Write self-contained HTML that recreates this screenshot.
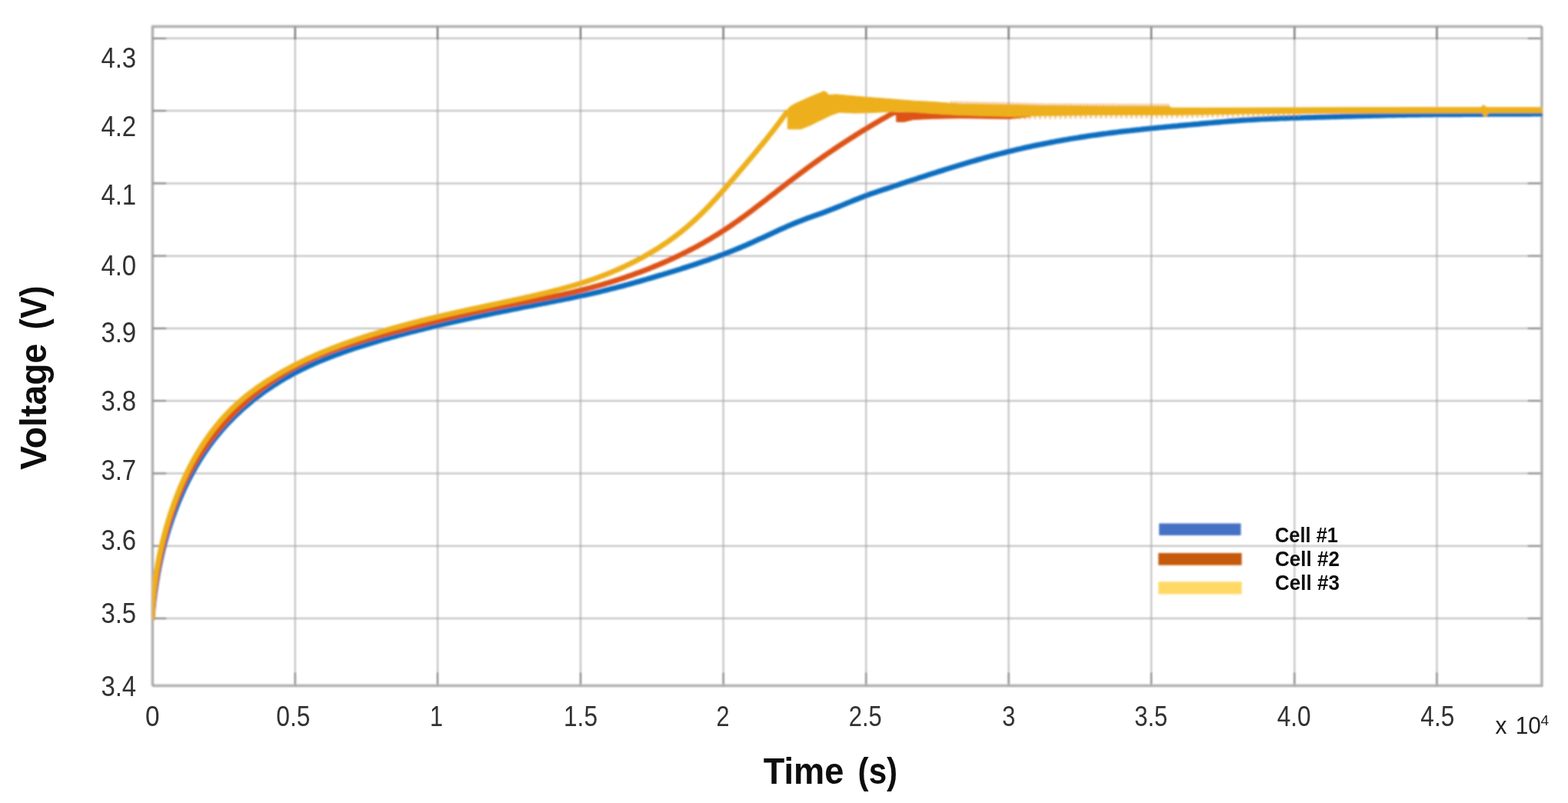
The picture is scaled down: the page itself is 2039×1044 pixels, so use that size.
<!DOCTYPE html>
<html lang="en"><head><meta charset="utf-8"><title>Voltage vs Time</title>
<style>
html,body{margin:0;padding:0;background:#fff;}
body{width:2039px;height:1044px;overflow:hidden;font-family:"Liberation Sans",sans-serif;}
svg{display:block;}
text{font-family:"Liberation Sans",sans-serif;fill:#222;}
.tick{font-size:37.6px;fill:#303030;}
.b{font-weight:bold;fill:#111;}
</style></head><body>
<svg width="2039" height="1044" viewBox="0 0 2039 1044">
<defs><clipPath id="cp"><rect x="197.89999999999998" y="34.3" width="1807.7" height="857.0"/></clipPath>
<filter id="bl" x="-5%" y="-5%" width="110%" height="110%"><feGaussianBlur stdDeviation="1.0"/></filter>
<filter id="blt" x="-5%" y="-5%" width="110%" height="110%"><feGaussianBlur stdDeviation="0.45"/></filter></defs>
<rect width="2039" height="1044" fill="#fff"/>
<g filter="url(#bl)">

<g stroke="#a6a6a6" stroke-width="1.5" fill="none">
<line x1="383.70" y1="34.3" x2="383.70" y2="891.3"/>
<line x1="569.10" y1="34.3" x2="569.10" y2="891.3"/>
<line x1="755.00" y1="34.3" x2="755.00" y2="891.3"/>
<line x1="940.60" y1="34.3" x2="940.60" y2="891.3"/>
<line x1="1126.30" y1="34.3" x2="1126.30" y2="891.3"/>
<line x1="1311.60" y1="34.3" x2="1311.60" y2="891.3"/>
<line x1="1497.20" y1="34.3" x2="1497.20" y2="891.3"/>
<line x1="1683.40" y1="34.3" x2="1683.40" y2="891.3"/>
<line x1="1868.50" y1="34.3" x2="1868.50" y2="891.3"/>
<line x1="198.2" y1="49.85" x2="2004.7" y2="49.85"/>
<line x1="198.2" y1="144.12" x2="2004.7" y2="144.12"/>
<line x1="198.2" y1="238.39" x2="2004.7" y2="238.39"/>
<line x1="198.2" y1="332.66" x2="2004.7" y2="332.66"/>
<line x1="198.2" y1="426.93" x2="2004.7" y2="426.93"/>
<line x1="198.2" y1="521.20" x2="2004.7" y2="521.20"/>
<line x1="198.2" y1="615.47" x2="2004.7" y2="615.47"/>
<line x1="198.2" y1="709.74" x2="2004.7" y2="709.74"/>
<line x1="198.2" y1="804.01" x2="2004.7" y2="804.01"/>
</g>
<g stroke="#6a6a6a" stroke-width="1.7" fill="none">
<line x1="383.70" y1="891.3" x2="383.70" y2="874.3"/>
<line x1="383.70" y1="34.3" x2="383.70" y2="51.3" stroke="#505050"/>
<line x1="569.10" y1="891.3" x2="569.10" y2="874.3"/>
<line x1="569.10" y1="34.3" x2="569.10" y2="51.3" stroke="#505050"/>
<line x1="755.00" y1="891.3" x2="755.00" y2="874.3"/>
<line x1="755.00" y1="34.3" x2="755.00" y2="51.3" stroke="#505050"/>
<line x1="940.60" y1="891.3" x2="940.60" y2="874.3"/>
<line x1="940.60" y1="34.3" x2="940.60" y2="51.3" stroke="#505050"/>
<line x1="1126.30" y1="891.3" x2="1126.30" y2="874.3"/>
<line x1="1126.30" y1="34.3" x2="1126.30" y2="51.3" stroke="#505050"/>
<line x1="1311.60" y1="891.3" x2="1311.60" y2="874.3"/>
<line x1="1311.60" y1="34.3" x2="1311.60" y2="51.3" stroke="#505050"/>
<line x1="1497.20" y1="891.3" x2="1497.20" y2="874.3"/>
<line x1="1497.20" y1="34.3" x2="1497.20" y2="51.3" stroke="#505050"/>
<line x1="1683.40" y1="891.3" x2="1683.40" y2="874.3"/>
<line x1="1683.40" y1="34.3" x2="1683.40" y2="51.3" stroke="#505050"/>
<line x1="1868.50" y1="891.3" x2="1868.50" y2="874.3"/>
<line x1="1868.50" y1="34.3" x2="1868.50" y2="51.3" stroke="#505050"/>
<line x1="198.2" y1="49.85" x2="216.2" y2="49.85"/>
<line x1="2004.7" y1="49.85" x2="1986.7" y2="49.85"/>
<line x1="198.2" y1="144.12" x2="216.2" y2="144.12"/>
<line x1="2004.7" y1="144.12" x2="1986.7" y2="144.12"/>
<line x1="198.2" y1="238.39" x2="216.2" y2="238.39"/>
<line x1="2004.7" y1="238.39" x2="1986.7" y2="238.39"/>
<line x1="198.2" y1="332.66" x2="216.2" y2="332.66"/>
<line x1="2004.7" y1="332.66" x2="1986.7" y2="332.66"/>
<line x1="198.2" y1="426.93" x2="216.2" y2="426.93"/>
<line x1="2004.7" y1="426.93" x2="1986.7" y2="426.93"/>
<line x1="198.2" y1="521.20" x2="216.2" y2="521.20"/>
<line x1="2004.7" y1="521.20" x2="1986.7" y2="521.20"/>
<line x1="198.2" y1="615.47" x2="216.2" y2="615.47"/>
<line x1="2004.7" y1="615.47" x2="1986.7" y2="615.47"/>
<line x1="198.2" y1="709.74" x2="216.2" y2="709.74"/>
<line x1="2004.7" y1="709.74" x2="1986.7" y2="709.74"/>
<line x1="198.2" y1="804.01" x2="216.2" y2="804.01"/>
<line x1="2004.7" y1="804.01" x2="1986.7" y2="804.01"/>
</g>
<rect x="197.39999999999998" y="33.5" width="1806.5" height="857.0" fill="none" stroke="#b4b4b4" stroke-width="1.6"/>
<rect x="199.0" y="35.099999999999994" width="1806.5" height="857.0" fill="none" stroke="#929292" stroke-width="1.6"/>
<g clip-path="url(#cp)" fill="none" stroke-linejoin="round" stroke-linecap="butt">
<polyline points="197.7,806.0 198.0,802.5 198.3,799.1 198.6,795.6 198.9,792.2 199.3,788.8 199.6,785.3 200.0,781.9 200.4,778.5 200.9,775.1 201.3,771.7 201.8,768.3 202.3,764.9 202.8,761.5 203.3,758.1 203.9,754.7 204.4,751.3 205.0,747.9 205.6,744.6 206.3,741.2 206.9,737.8 207.6,734.5 208.3,731.1 209.0,727.8 209.8,724.4 210.5,721.1 211.3,717.8 212.1,714.4 213.0,711.1 213.8,707.8 214.7,704.5 215.6,701.2 216.6,697.9 217.5,694.6 218.5,691.3 219.5,688.0 220.6,684.7 221.6,681.4 222.7,678.1 223.8,674.9 225.0,671.6 226.2,668.4 227.3,665.1 228.6,661.9 229.8,658.6 231.1,655.4 232.4,652.2 233.7,649.0 235.1,645.8 236.5,642.6 237.9,639.4 239.3,636.2 240.8,633.1 242.3,630.0 243.9,626.8 245.4,623.7 247.0,620.6 248.6,617.6 250.3,614.5 252.0,611.5 253.7,608.4 255.4,605.4 257.2,602.4 259.0,599.5 260.9,596.5 262.7,593.6 264.6,590.7 266.5,587.8 268.5,585.0 270.5,582.1 272.5,579.3 274.6,576.5 276.6,573.8 278.7,571.0 280.9,568.3 283.1,565.6 285.3,563.0 287.5,560.3 289.7,557.7 292.0,555.2 294.3,552.6 296.7,550.1 299.1,547.6 301.5,545.2 303.9,542.7 306.3,540.3 308.8,537.9 311.3,535.6 313.8,533.3 316.4,531.0 319.0,528.7 321.6,526.5 324.2,524.3 326.9,522.1 329.5,519.9 332.2,517.8 335.0,515.7 337.7,513.7 340.5,511.6 343.2,509.6 346.0,507.6 348.9,505.7 351.7,503.8 354.6,501.9 357.4,500.0 360.3,498.2 363.3,496.3 366.2,494.6 369.1,492.8 372.1,491.1 375.1,489.4 378.1,487.7 381.1,486.1 384.1,484.5 387.2,482.9 390.2,481.4 393.3,479.8 396.4,478.3 399.5,476.9 402.6,475.4 405.7,474.0 408.9,472.6 412.0,471.2 415.2,469.9 418.4,468.6 421.5,467.3 424.7,466.0 427.9,464.7 431.1,463.5 434.4,462.3 437.6,461.1 440.8,459.9 444.0,458.7 447.3,457.6 450.5,456.4 453.8,455.3 457.1,454.2 460.3,453.1 463.6,452.0 466.9,451.0 470.2,449.9 473.5,448.9 476.8,447.9 480.1,446.9 483.4,445.9 486.7,444.9 490.0,443.9 493.3,442.9 496.6,441.9 499.9,441.0 503.2,440.1 506.5,439.1 509.9,438.2 513.2,437.3 516.5,436.4 519.8,435.5 523.2,434.6 526.5,433.7 529.8,432.8 533.2,432.0 536.5,431.1 539.9,430.3 543.2,429.4 546.6,428.6 549.9,427.8 553.3,427.0 556.6,426.1 560.0,425.3 563.4,424.5 566.7,423.7 570.1,423.0 573.5,422.2 576.8,421.4 580.2,420.6 583.6,419.8 586.9,419.1 590.3,418.3 593.7,417.6 597.1,416.8 600.5,416.1 603.8,415.3 607.2,414.6 610.6,413.9 614.0,413.1 617.4,412.4 620.7,411.7 624.1,411.0 627.5,410.2 630.9,409.5 634.3,408.8 637.7,408.1 641.1,407.4 644.4,406.7 647.8,406.0 651.2,405.3 654.6,404.7 658.0,404.0 661.4,403.3 664.8,402.6 668.2,401.9 671.6,401.3 674.9,400.6 678.3,399.9 681.7,399.2 685.1,398.6 688.5,397.9 691.9,397.3 695.3,396.6 698.6,395.9 702.0,395.3 705.4,394.6 708.8,394.0 712.2,393.3 715.6,392.6 718.9,392.0 722.3,391.3 725.7,390.7 729.1,390.0 732.4,389.3 735.8,388.7 739.2,388.0 742.6,387.3 745.9,386.6 749.3,385.9 752.7,385.2 756.0,384.5 759.4,383.8 762.7,383.1 766.1,382.3 769.5,381.6 772.8,380.8 776.2,380.1 779.5,379.3 782.9,378.5 786.2,377.7 789.6,376.9 792.9,376.0 796.2,375.2 799.6,374.4 802.9,373.5 806.2,372.6 809.6,371.8 812.9,370.9 816.2,370.0 819.5,369.1 822.8,368.2 826.1,367.2 829.5,366.3 832.8,365.4 836.1,364.4 839.4,363.5 842.7,362.5 845.9,361.6 849.2,360.6 852.5,359.6 855.8,358.6 859.1,357.7 862.3,356.7 865.6,355.7 868.9,354.7 872.1,353.7 875.4,352.7 878.7,351.7 881.9,350.7 885.2,349.7 888.4,348.6 891.6,347.6 894.9,346.6 898.1,345.5 901.4,344.4 904.6,343.4 907.8,342.3 911.0,341.2 914.3,340.1 917.5,339.0 920.7,337.9 923.9,336.7 927.1,335.6 930.3,334.4 933.5,333.3 936.8,332.1 940.0,330.9 943.2,329.6 946.4,328.4 949.6,327.2 952.8,325.9 956.0,324.6 959.2,323.3 962.4,322.0 965.6,320.6 968.8,319.3 972.0,317.9 975.1,316.5 978.3,315.1 981.5,313.6 984.7,312.2 987.9,310.7 991.1,309.3 994.3,307.8 997.5,306.3 1000.7,304.8 1003.9,303.3 1007.1,301.9 1010.3,300.4 1013.4,298.9 1016.6,297.5 1019.8,296.1 1023.0,294.6 1026.2,293.2 1029.4,291.9 1032.6,290.5 1035.8,289.2 1039.0,287.9 1042.2,286.7 1045.4,285.5 1048.6,284.3 1051.8,283.1 1055.0,282.0 1058.2,280.8 1061.4,279.7 1064.6,278.6 1067.8,277.4 1071.1,276.2 1074.3,275.0 1077.5,273.8 1080.7,272.6 1083.9,271.3 1087.1,270.0 1090.4,268.7 1093.6,267.4 1096.8,266.1 1100.0,264.7 1103.3,263.4 1106.5,262.1 1109.7,260.8 1112.9,259.5 1116.2,258.2 1119.4,256.9 1122.6,255.7 1125.9,254.4 1129.1,253.3 1132.4,252.1 1135.6,251.0 1138.8,249.9 1142.1,248.8 1145.3,247.7 1148.6,246.6 1151.8,245.6 1155.1,244.5 1158.3,243.4 1161.6,242.3 1164.9,241.3 1168.1,240.2 1171.4,239.1 1174.6,238.0 1177.9,236.9 1181.2,235.9 1184.4,234.8 1187.7,233.7 1191.0,232.7 1194.2,231.6 1197.5,230.5 1200.8,229.5 1204.1,228.4 1207.4,227.3 1210.6,226.3 1213.9,225.2 1217.2,224.2 1220.5,223.1 1223.8,222.1 1227.1,221.1 1230.4,220.0 1233.7,219.0 1237.0,218.0 1240.3,217.0 1243.6,216.0 1246.9,215.0 1250.2,214.0 1253.5,213.0 1256.8,212.0 1260.1,211.0 1263.4,210.0 1266.8,209.1 1270.1,208.1 1273.4,207.2 1276.7,206.3 1280.0,205.3 1283.4,204.4 1286.7,203.5 1290.0,202.6 1293.4,201.7 1296.7,200.8 1300.0,200.0 1303.4,199.1 1306.7,198.3 1310.1,197.4 1313.4,196.6 1316.8,195.8 1320.1,195.0 1323.5,194.2 1326.8,193.5 1330.2,192.7 1333.5,191.9 1336.9,191.2 1340.3,190.5 1343.6,189.7 1347.0,189.0 1350.4,188.3 1353.8,187.6 1357.1,187.0 1360.5,186.3 1363.9,185.6 1367.3,185.0 1370.7,184.4 1374.0,183.7 1377.4,183.1 1380.8,182.5 1384.2,181.9 1387.6,181.3 1391.0,180.7 1394.4,180.2 1397.8,179.6 1401.2,179.1 1404.6,178.5 1408.0,178.0 1411.4,177.5 1414.8,176.9 1418.2,176.4 1421.6,175.9 1425.0,175.5 1428.4,175.0 1431.8,174.5 1435.2,174.0 1438.6,173.6 1442.1,173.1 1445.5,172.7 1448.9,172.3 1452.3,171.9 1455.7,171.4 1459.1,171.0 1462.6,170.6 1466.0,170.2 1469.4,169.9 1472.8,169.5 1476.3,169.1 1479.7,168.7 1483.1,168.4 1486.5,168.0 1490.0,167.6 1493.4,167.3 1496.8,166.9 1500.3,166.6 1503.7,166.3 1507.1,165.9 1510.6,165.6 1514.0,165.3 1517.4,164.9 1520.9,164.6 1524.3,164.3 1527.7,164.0 1531.2,163.7 1534.6,163.3 1538.1,163.0 1541.5,162.7 1544.9,162.4 1548.4,162.1 1551.8,161.8 1555.3,161.5 1558.7,161.2 1562.1,160.8 1565.6,160.5 1569.0,160.2 1572.5,159.9 1575.9,159.6 1579.4,159.3 1582.8,159.0 1586.2,158.7 1589.7,158.4 1593.1,158.1 1596.6,157.8 1600.0,157.5 1603.5,157.2 1606.9,157.0 1610.3,156.8 1613.8,156.5 1617.2,156.3 1620.7,156.1 1624.1,155.9 1627.6,155.7 1631.0,155.5 1634.4,155.3 1637.9,155.1 1641.3,154.9 1644.8,154.8 1648.2,154.6 1651.6,154.5 1655.1,154.3 1658.5,154.2 1662.0,154.0 1665.4,153.9 1668.9,153.8 1672.3,153.7 1675.7,153.6 1679.2,153.4 1682.6,153.3 1686.1,153.2 1689.5,153.1 1693.0,153.0 1696.4,152.9 1699.8,152.8 1703.3,152.7 1706.7,152.6 1710.2,152.5 1713.6,152.4 1717.1,152.3 1720.5,152.2 1723.9,152.1 1727.4,152.0 1730.8,151.9 1734.3,151.8 1737.7,151.7 1741.2,151.6 1744.6,151.5 1748.0,151.4 1751.5,151.3 1754.9,151.2 1758.4,151.1 1761.8,151.0 1765.3,150.9 1768.7,150.8 1772.2,150.7 1775.6,150.6 1779.0,150.5 1782.5,150.5 1785.9,150.4 1789.4,150.3 1792.8,150.2 1796.3,150.1 1799.7,150.0 1803.1,149.9 1806.6,149.9 1810.0,149.8 1813.5,149.7 1816.9,149.6 1820.4,149.6 1823.8,149.5 1827.3,149.5 1830.7,149.4 1834.1,149.3 1837.6,149.3 1841.0,149.2 1844.5,149.2 1847.9,149.1 1851.4,149.1 1854.8,149.1 1858.3,149.0 1861.7,149.0 1865.2,148.9 1868.6,148.9 1872.0,148.9 1875.5,148.8 1878.9,148.8 1882.4,148.8 1885.8,148.8 1889.3,148.7 1892.7,148.7 1896.2,148.7 1899.6,148.7 1903.1,148.6 1906.5,148.6 1910.0,148.6 1913.4,148.6 1916.9,148.5 1920.3,148.5 1923.8,148.5 1927.2,148.5 1930.7,148.5 1934.1,148.5 1937.5,148.4 1941.0,148.4 1944.4,148.4 1947.9,148.4 1951.3,148.4 1954.8,148.4 1958.2,148.3 1961.7,148.3 1965.1,148.3 1968.6,148.3 1972.0,148.3 1975.5,148.2 1978.9,148.2 1982.4,148.2 1985.8,148.2 1989.3,148.2 1992.7,148.1 1996.2,148.1 1999.6,148.1 2003.1,148.1 2006.5,148.0 2010.0,148.0" stroke="#0a6ebf" stroke-width="6.9"/>
<polyline points="197.7,806.0 197.8,803.9 197.9,801.8 198.0,799.7 198.2,797.7 198.3,795.6 198.5,793.5 198.6,791.4 198.8,789.3 199.0,787.2 199.2,785.1 199.4,783.0 199.6,780.9 199.8,778.9 200.0,776.8 200.2,774.7 200.5,772.6 200.7,770.5 201.0,768.4 201.3,766.3 201.5,764.2 201.8,762.2 202.1,760.1 202.4,758.0 202.7,755.9 203.0,753.8 203.4,751.8 203.7,749.7 204.0,747.6 204.4,745.5 204.8,743.5 205.1,741.4 205.5,739.3 205.9,737.2 206.3,735.2 206.7,733.1 207.1,731.0 207.5,729.0 207.9,726.9 208.3,724.9 208.8,722.8 209.2,720.8 209.7,718.7 210.1,716.7 210.6,714.6 211.1,712.6 211.5,710.5 212.0,708.5 212.5,706.4 213.0,704.4 213.5,702.4 214.0,700.3 214.6,698.3 215.1,696.3 215.6,694.3 216.2,692.3 216.7,690.2 217.3,688.2 217.9,686.2 218.5,684.2 219.0,682.2 219.6,680.2 220.2,678.2 220.9,676.2 221.5,674.2 222.1,672.3 222.8,670.3 223.4,668.3 224.1,666.3 224.8,664.4 225.4,662.4 226.1,660.5 226.8,658.5 227.6,656.5 228.3,654.6 229.0,652.7 229.8,650.7 230.5,648.8 231.3,646.9 232.1,644.9 232.9,643.0 233.7,641.1 234.5,639.2 235.3,637.3 236.1,635.4 237.0,633.5 237.8,631.6 238.7,629.7 239.6,627.9 240.5,626.0 241.4,624.1 242.3,622.3 243.3,620.4 244.2,618.5 245.2,616.7 246.1,614.9 247.1,613.0 248.1,611.2 249.1,609.4 250.2,607.6 251.2,605.8 252.2,604.0 253.3,602.2 254.4,600.4 255.5,598.6 256.6,596.8 257.7,595.0 258.8,593.3 259.9,591.5 261.1,589.8 262.2,588.0 263.4,586.3 264.6,584.6 265.8,582.8 267.0,581.1 268.2,579.4 269.4,577.7 270.6,576.0 271.9,574.3 273.1,572.6 274.4,571.0 275.7,569.3 277.0,567.6 278.3,566.0 279.6,564.4 280.9,562.7 282.2,561.1 283.6,559.5 284.9,557.9 286.3,556.3 287.7,554.7 289.1,553.1 290.4,551.5 291.8,549.9 293.3,548.4 294.7,546.8 296.1,545.3 297.6,543.7 299.0,542.2 300.5,540.7 301.9,539.2 303.4,537.7 304.9,536.2 306.4,534.7 307.9,533.2 309.4,531.8 310.9,530.3 312.5,528.9 314.0,527.5 315.6,526.0 317.1,524.6 318.7,523.2 320.3,521.8 321.8,520.4 323.4,519.0 325.0,517.7 326.6,516.3 328.3,515.0 329.9,513.6 331.5,512.3 333.2,511.0 334.8,509.7 336.5,508.4 338.1,507.1 339.8,505.8 341.5,504.5 343.1,503.3 344.8,502.0 346.5,500.8 348.2,499.6 350.0,498.4 351.7,497.2 353.4,496.0 355.1,494.8 356.9,493.6 358.6,492.5 360.4,491.3 362.1,490.2 363.9,489.1 365.7,488.0 367.4,486.9 369.2,485.8 371.0,484.7 372.8,483.6 374.6,482.6 376.4,481.5 378.2,480.5 380.1,479.5 381.9,478.5 383.7,477.5 385.6,476.5 387.4,475.5 389.2,474.6 391.1,473.6 393.0,472.7 394.8,471.8 396.7,470.9 398.6,470.0 400.4,469.1 402.3,468.2 404.2,467.3 406.1,466.5 408.0,465.6 409.9,464.8 411.8,463.9 413.7,463.1 415.6,462.3 417.5,461.5 419.5,460.7 421.4,459.9 423.3,459.2 425.3,458.4 427.2,457.7 429.1,456.9 431.1,456.2 433.0,455.5 435.0,454.7 437.0,454.0 438.9,453.3 440.9,452.6 442.8,451.9 444.8,451.2 446.8,450.6 448.8,449.9 450.8,449.2 452.7,448.6 454.7,447.9 456.7,447.3 458.7,446.7 460.7,446.0 462.7,445.4 464.7,444.8 466.7,444.2 468.7,443.6 470.7,443.0 472.7,442.4 474.7,441.8 476.7,441.2 478.8,440.6 480.8,440.0 482.8,439.4 484.8,438.9 486.9,438.3 488.9,437.7 490.9,437.2 492.9,436.6 495.0,436.1 497.0,435.5 499.0,435.0 501.1,434.4 503.1,433.9 505.1,433.3 507.2,432.8 509.2,432.3 511.3,431.7 513.3,431.2 515.3,430.7 517.4,430.2 519.4,429.6 521.5,429.1 523.5,428.6 525.6,428.1 527.6,427.5 529.6,427.0 531.7,426.5 533.7,426.0 535.8,425.4 537.8,424.9 539.9,424.4 541.9,423.9 544.0,423.4 546.0,422.8 548.1,422.3 550.1,421.8 552.2,421.3 554.2,420.8 556.3,420.2 558.3,419.7 560.4,419.2 562.4,418.7 564.4,418.2 566.5,417.7 568.5,417.2 570.6,416.7 572.6,416.1 574.7,415.6 576.7,415.1 578.8,414.6 580.8,414.1 582.9,413.6 584.9,413.1 587.0,412.6 589.0,412.1 591.1,411.7 593.1,411.2 595.2,410.7 597.2,410.2 599.3,409.7 601.3,409.3 603.3,408.8 605.4,408.3 607.4,407.8 609.5,407.4 611.5,406.9 613.6,406.5 615.6,406.0 617.7,405.5 619.7,405.1 621.8,404.6 623.8,404.2 625.9,403.8 627.9,403.3 629.9,402.9 632.0,402.4 634.0,402.0 636.1,401.6 638.1,401.2 640.2,400.7 642.2,400.3 644.3,399.9 646.3,399.5 648.4,399.1 650.4,398.7 652.4,398.2 654.5,397.8 656.5,397.4 658.6,397.0 660.6,396.6 662.7,396.2 664.7,395.9 666.8,395.5 668.8,395.1 670.8,394.7 672.9,394.3 674.9,393.9 677.0,393.5 679.0,393.2 681.1,392.8 683.1,392.4 685.1,392.0 687.2,391.6 689.2,391.3 691.3,390.9 693.3,390.5 695.3,390.1 697.4,389.7 699.4,389.4 701.5,389.0 703.5,388.6 705.5,388.2 707.6,387.8 709.6,387.4 711.7,387.0 713.7,386.6 715.7,386.2 717.8,385.8 719.8,385.4 721.8,385.0 723.9,384.5 725.9,384.1 728.0,383.7 730.0,383.3 732.0,382.8 734.1,382.4 736.1,381.9 738.1,381.5 740.2,381.0 742.2,380.5 744.2,380.1 746.3,379.6 748.3,379.1 750.3,378.6 752.4,378.1 754.4,377.6 756.4,377.1 758.4,376.6 760.5,376.1 762.5,375.6 764.5,375.0 766.5,374.5 768.6,374.0 770.6,373.4 772.6,372.9 774.6,372.3 776.6,371.8 778.7,371.2 780.7,370.6 782.7,370.1 784.7,369.5 786.7,368.9 788.7,368.3 790.7,367.7 792.7,367.1 794.7,366.5 796.7,365.9 798.7,365.2 800.7,364.6 802.7,364.0 804.7,363.3 806.7,362.7 808.7,362.0 810.7,361.4 812.7,360.7 814.7,360.0 816.7,359.3 818.7,358.6 820.6,358.0 822.6,357.3 824.6,356.6 826.6,355.8 828.5,355.1 830.5,354.4 832.5,353.7 834.4,352.9 836.4,352.2 838.4,351.4 840.3,350.7 842.3,349.9 844.2,349.2 846.2,348.4 848.1,347.6 850.0,346.8 852.0,346.0 853.9,345.2 855.9,344.4 857.8,343.6 859.7,342.8 861.6,342.0 863.6,341.1 865.5,340.3 867.4,339.4 869.3,338.6 871.2,337.7 873.1,336.8 875.0,336.0 876.9,335.1 878.8,334.2 880.7,333.3 882.6,332.4 884.5,331.5 886.4,330.6 888.3,329.6 890.1,328.7 892.0,327.8 893.9,326.8 895.7,325.9 897.6,324.9 899.5,323.9 901.3,323.0 903.2,322.0 905.0,321.0 906.9,320.0 908.7,319.0 910.5,318.0 912.4,316.9 914.2,315.9 916.0,314.9 917.8,313.8 919.6,312.8 921.4,311.7 923.2,310.7 925.0,309.6 926.8,308.5 928.6,307.4 930.4,306.3 932.2,305.2 934.0,304.1 935.7,303.0 937.5,301.9 939.3,300.7 941.0,299.6 942.8,298.5 944.5,297.3 946.3,296.1 948.0,295.0 949.8,293.8 951.5,292.6 953.2,291.4 954.9,290.2 956.7,289.0 958.4,287.8 960.1,286.6 961.8,285.4 963.5,284.1 965.2,282.9 966.9,281.7 968.6,280.4 970.3,279.2 972.0,277.9 973.7,276.7 975.4,275.4 977.0,274.2 978.7,272.9 980.4,271.6 982.1,270.4 983.7,269.1 985.4,267.8 987.1,266.6 988.7,265.3 990.4,264.0 992.1,262.7 993.7,261.5 995.4,260.2 997.1,258.9 998.7,257.6 1000.4,256.3 1002.0,255.0 1003.7,253.8 1005.3,252.5 1007.0,251.2 1008.7,249.9 1010.3,248.6 1012.0,247.3 1013.6,246.1 1015.3,244.8 1016.9,243.5 1018.6,242.2 1020.2,240.9 1021.9,239.6 1023.6,238.4 1025.2,237.1 1026.9,235.8 1028.5,234.5 1030.2,233.3 1031.8,232.0 1033.5,230.7 1035.2,229.5 1036.8,228.2 1038.5,227.0 1040.2,225.7 1041.8,224.5 1043.5,223.2 1045.2,222.0 1046.9,220.7 1048.5,219.5 1050.2,218.2 1051.9,217.0 1053.6,215.8 1055.3,214.5 1057.0,213.3 1058.7,212.1 1060.4,210.9 1062.1,209.6 1063.8,208.4 1065.5,207.2 1067.2,206.0 1068.9,204.8 1070.6,203.6 1072.3,202.4 1074.0,201.2 1075.8,200.0 1077.5,198.8 1079.2,197.7 1080.9,196.5 1082.7,195.3 1084.4,194.1 1086.1,193.0 1087.9,191.8 1089.6,190.6 1091.4,189.5 1093.1,188.3 1094.9,187.2 1096.6,186.0 1098.4,184.9 1100.1,183.7 1101.9,182.6 1103.7,181.5 1105.4,180.3 1107.2,179.2 1109.0,178.1 1110.7,177.0 1112.5,175.8 1114.3,174.7 1116.1,173.6 1117.8,172.5 1119.6,171.4 1121.4,170.3 1123.2,169.2 1125.0,168.1 1126.8,167.0 1128.6,165.9 1130.4,164.9 1132.2,163.8 1134.0,162.7 1135.8,161.6 1137.6,160.6 1139.4,159.5 1141.2,158.4 1143.0,157.4 1144.8,156.3 1146.6,155.3 1148.4,154.2 1150.2,153.2 1152.1,152.2 1153.9,151.1 1155.7,150.1 1157.5,149.1 1159.3,148.0 1161.2,147.0 1163.0,146.0" stroke="#dd5217" stroke-width="6.9"/>
<polygon points="1160.0,146.0 1340.0,146.0 1340.0,151.5 1313.0,154.4 1280.0,154.0 1250.0,153.6 1212.8,154.3 1194.0,155.2 1187.7,155.5 1176.0,158.3 1165.8,158.3 1165.6,149.0 1160.0,150.0" fill="#dd5217" stroke="#dd5217" stroke-width="1"/>
<polyline points="1236.0,133.4 1250.0,133.6 1313.0,135.0 1360.0,136.2 1440.0,136.6 1521.0,136.8" stroke="#e88a30" stroke-width="4" stroke-dasharray="3 1.2" opacity="0.5"/>
<polyline points="1318.0,153.2 1360.0,152.6 1440.0,151.6 1521.0,151.4 1600.0,150.2 1690.0,149.2" stroke="#eb9a38" stroke-width="4.4" stroke-dasharray="3 3.6" opacity="0.55"/>
<polyline points="197.7,806.0 197.7,804.1 197.8,802.2 197.8,800.2 197.9,798.3 197.9,796.4 198.0,794.5 198.1,792.6 198.2,790.7 198.3,788.8 198.4,786.9 198.5,785.0 198.7,783.0 198.8,781.1 199.0,779.2 199.1,777.3 199.3,775.4 199.5,773.5 199.6,771.6 199.8,769.7 200.0,767.8 200.2,765.9 200.5,764.0 200.7,762.1 200.9,760.3 201.2,758.4 201.4,756.5 201.7,754.6 201.9,752.7 202.2,750.8 202.5,748.9 202.8,747.0 203.1,745.1 203.4,743.3 203.7,741.4 204.0,739.5 204.4,737.6 204.7,735.7 205.0,733.9 205.4,732.0 205.7,730.1 206.1,728.2 206.5,726.4 206.9,724.5 207.2,722.6 207.6,720.8 208.0,718.9 208.4,717.0 208.8,715.2 209.3,713.3 209.7,711.4 210.1,709.6 210.6,707.7 211.0,705.9 211.4,704.0 211.9,702.2 212.4,700.3 212.8,698.5 213.3,696.6 213.8,694.8 214.3,692.9 214.8,691.1 215.3,689.2 215.8,687.4 216.3,685.5 216.8,683.7 217.4,681.9 217.9,680.0 218.5,678.2 219.0,676.4 219.6,674.5 220.2,672.7 220.7,670.9 221.3,669.0 221.9,667.2 222.5,665.4 223.1,663.6 223.7,661.7 224.4,659.9 225.0,658.1 225.6,656.3 226.3,654.5 226.9,652.7 227.6,650.9 228.3,649.1 229.0,647.3 229.6,645.5 230.3,643.7 231.0,641.9 231.8,640.1 232.5,638.3 233.2,636.5 233.9,634.7 234.7,633.0 235.4,631.2 236.2,629.4 237.0,627.7 237.8,625.9 238.6,624.1 239.3,622.4 240.2,620.6 241.0,618.9 241.8,617.2 242.6,615.4 243.5,613.7 244.3,612.0 245.2,610.3 246.0,608.5 246.9,606.8 247.8,605.1 248.7,603.4 249.6,601.7 250.5,600.0 251.4,598.3 252.4,596.7 253.3,595.0 254.3,593.3 255.2,591.7 256.2,590.0 257.2,588.4 258.2,586.7 259.2,585.1 260.2,583.5 261.2,581.8 262.2,580.2 263.3,578.6 264.3,577.0 265.4,575.4 266.4,573.8 267.5,572.2 268.6,570.7 269.7,569.1 270.8,567.5 271.9,566.0 273.0,564.4 274.1,562.9 275.3,561.4 276.4,559.8 277.6,558.3 278.8,556.8 280.0,555.3 281.2,553.8 282.4,552.4 283.6,550.9 284.8,549.4 286.0,548.0 287.3,546.5 288.5,545.1 289.8,543.7 291.1,542.2 292.4,540.8 293.7,539.4 295.0,538.0 296.3,536.6 297.6,535.3 299.0,533.9 300.3,532.6 301.7,531.2 303.1,529.9 304.5,528.6 305.8,527.3 307.3,525.9 308.7,524.7 310.1,523.4 311.5,522.1 313.0,520.8 314.5,519.6 315.9,518.4 317.4,517.1 318.9,515.9 320.4,514.7 321.9,513.5 323.4,512.3 325.0,511.1 326.5,510.0 328.0,508.8 329.6,507.7 331.1,506.5 332.7,505.4 334.2,504.3 335.8,503.2 337.4,502.1 339.0,501.0 340.6,499.9 342.1,498.8 343.7,497.8 345.3,496.7 346.9,495.7 348.5,494.6 350.1,493.6 351.8,492.6 353.4,491.6 355.0,490.6 356.6,489.6 358.2,488.6 359.9,487.6 361.5,486.6 363.1,485.7 364.8,484.7 366.4,483.8 368.1,482.8 369.7,481.9 371.4,481.0 373.1,480.1 374.7,479.2 376.4,478.3 378.1,477.4 379.7,476.5 381.4,475.6 383.1,474.7 384.8,473.9 386.5,473.0 388.2,472.2 389.9,471.3 391.6,470.5 393.3,469.7 395.0,468.8 396.7,468.0 398.4,467.2 400.1,466.4 401.8,465.6 403.5,464.8 405.3,464.1 407.0,463.3 408.7,462.5 410.5,461.7 412.2,461.0 413.9,460.2 415.7,459.5 417.4,458.7 419.2,458.0 420.9,457.3 422.7,456.6 424.4,455.8 426.2,455.1 428.0,454.4 429.7,453.7 431.5,453.0 433.3,452.3 435.0,451.7 436.8,451.0 438.6,450.3 440.4,449.6 442.2,449.0 443.9,448.3 445.7,447.6 447.5,447.0 449.3,446.3 451.1,445.7 452.9,445.1 454.7,444.4 456.5,443.8 458.3,443.2 460.1,442.6 461.9,441.9 463.7,441.3 465.6,440.7 467.4,440.1 469.2,439.5 471.0,438.9 472.8,438.3 474.6,437.7 476.5,437.1 478.3,436.6 480.1,436.0 482.0,435.4 483.8,434.8 485.6,434.3 487.5,433.7 489.3,433.1 491.1,432.6 493.0,432.0 494.8,431.5 496.7,430.9 498.5,430.4 500.3,429.8 502.2,429.3 504.0,428.7 505.9,428.2 507.7,427.7 509.6,427.2 511.5,426.6 513.3,426.1 515.2,425.6 517.0,425.1 518.9,424.6 520.8,424.1 522.6,423.6 524.5,423.0 526.3,422.5 528.2,422.1 530.1,421.6 531.9,421.1 533.8,420.6 535.7,420.1 537.6,419.6 539.4,419.1 541.3,418.6 543.2,418.2 545.0,417.7 546.9,417.2 548.8,416.7 550.7,416.3 552.6,415.8 554.4,415.4 556.3,414.9 558.2,414.4 560.1,414.0 561.9,413.5 563.8,413.1 565.7,412.6 567.6,412.2 569.5,411.7 571.4,411.3 573.2,410.8 575.1,410.4 577.0,410.0 578.9,409.5 580.8,409.1 582.7,408.7 584.5,408.2 586.4,407.8 588.3,407.4 590.2,407.0 592.1,406.5 594.0,406.1 595.9,405.7 597.7,405.3 599.6,404.9 601.5,404.5 603.4,404.1 605.3,403.6 607.2,403.2 609.1,402.8 610.9,402.4 612.8,402.0 614.7,401.6 616.6,401.2 618.5,400.8 620.4,400.4 622.2,400.0 624.1,399.6 626.0,399.2 627.9,398.8 629.8,398.4 631.7,398.0 633.5,397.6 635.4,397.2 637.3,396.8 639.2,396.4 641.1,396.0 642.9,395.6 644.8,395.2 646.7,394.8 648.6,394.4 650.4,394.0 652.3,393.6 654.2,393.2 656.1,392.8 657.9,392.4 659.8,392.0 661.7,391.6 663.5,391.2 665.4,390.8 667.3,390.4 669.2,390.0 671.0,389.6 672.9,389.2 674.8,388.8 676.6,388.4 678.5,388.0 680.3,387.6 682.2,387.1 684.1,386.7 685.9,386.3 687.8,385.9 689.6,385.5 691.5,385.0 693.4,384.6 695.2,384.2 697.1,383.8 698.9,383.3 700.8,382.9 702.6,382.4 704.5,382.0 706.3,381.6 708.2,381.1 710.0,380.7 711.8,380.2 713.7,379.8 715.5,379.3 717.4,378.8 719.2,378.4 721.0,377.9 722.9,377.4 724.7,377.0 726.5,376.5 728.4,376.0 730.2,375.5 732.0,375.0 733.8,374.5 735.7,374.0 737.5,373.5 739.3,373.0 741.1,372.5 743.0,372.0 744.8,371.5 746.6,370.9 748.4,370.4 750.2,369.9 752.0,369.3 753.8,368.8 755.6,368.2 757.4,367.6 759.2,367.1 761.0,366.5 762.8,365.9 764.6,365.3 766.4,364.7 768.2,364.1 770.0,363.5 771.8,362.9 773.6,362.2 775.3,361.6 777.1,360.9 778.9,360.3 780.7,359.6 782.4,359.0 784.2,358.3 786.0,357.6 787.7,356.9 789.5,356.2 791.3,355.5 793.0,354.8 794.8,354.1 796.5,353.3 798.3,352.6 800.0,351.8 801.8,351.1 803.5,350.3 805.3,349.5 807.0,348.8 808.8,348.0 810.5,347.2 812.2,346.4 814.0,345.5 815.7,344.7 817.4,343.9 819.1,343.1 820.8,342.2 822.6,341.4 824.3,340.5 826.0,339.6 827.7,338.7 829.4,337.8 831.1,336.9 832.8,336.0 834.5,335.1 836.1,334.2 837.8,333.3 839.5,332.3 841.2,331.4 842.8,330.4 844.5,329.5 846.1,328.5 847.8,327.5 849.4,326.5 851.1,325.5 852.7,324.5 854.3,323.5 856.0,322.5 857.6,321.4 859.2,320.4 860.8,319.3 862.4,318.3 864.0,317.2 865.6,316.1 867.2,315.1 868.8,314.0 870.3,312.9 871.9,311.7 873.4,310.6 875.0,309.5 876.5,308.4 878.1,307.2 879.6,306.1 881.1,304.9 882.6,303.7 884.2,302.5 885.7,301.4 887.1,300.2 888.6,299.0 890.1,297.7 891.6,296.5 893.0,295.3 894.5,294.1 895.9,292.8 897.4,291.5 898.8,290.3 900.2,289.0 901.7,287.7 903.1,286.4 904.5,285.1 905.9,283.8 907.2,282.5 908.6,281.2 910.0,279.9 911.4,278.5 912.7,277.2 914.1,275.9 915.4,274.5 916.8,273.2 918.1,271.8 919.4,270.4 920.8,269.0 922.1,267.7 923.4,266.3 924.7,264.9 926.0,263.5 927.3,262.1 928.6,260.7 929.9,259.3 931.2,257.9 932.5,256.5 933.8,255.0 935.0,253.6 936.3,252.2 937.6,250.8 938.8,249.3 940.1,247.9 941.4,246.4 942.6,245.0 943.9,243.6 945.1,242.1 946.4,240.7 947.6,239.2 948.9,237.8 950.1,236.3 951.4,234.8 952.6,233.4 953.9,231.9 955.1,230.5 956.3,229.0 957.6,227.6 958.8,226.1 960.1,224.6 961.3,223.2 962.5,221.7 963.8,220.3 965.0,218.8 966.3,217.3 967.5,215.9 968.7,214.4 970.0,213.0 971.2,211.5 972.4,210.0 973.7,208.6 974.9,207.1 976.1,205.7 977.3,204.2 978.6,202.7 979.8,201.3 981.0,199.8 982.2,198.3 983.5,196.9 984.7,195.4 985.9,193.9 987.1,192.4 988.3,191.0 989.5,189.5 990.8,188.0 992.0,186.5 993.2,185.0 994.4,183.6 995.6,182.1 996.8,180.6 998.0,179.1 999.1,177.6 1000.3,176.1 1001.5,174.6 1002.7,173.1 1003.9,171.6 1005.1,170.1 1006.2,168.6 1007.4,167.1 1008.6,165.6 1009.7,164.0 1010.9,162.5 1012.0,161.0 1013.2,159.5 1014.3,157.9 1015.5,156.4 1016.6,154.9 1017.8,153.3 1018.9,151.8 1020.0,150.2 1021.2,148.7 1022.3,147.1 1023.4,145.6 1024.5,144.0" stroke="#edb01f" stroke-width="6.9"/>
<polygon points="1024.3,144.0 1024.6,141.4 1029.0,137.6 1035.0,134.3 1041.6,131.3 1054.2,125.7 1062.0,122.4 1066.7,120.7 1071.1,118.6 1074.0,119.8 1076.1,121.3 1076.8,123.6 1088.0,122.8 1091.4,123.2 1100.0,124.0 1126.0,126.3 1154.0,128.4 1188.0,131.2 1212.8,132.4 1240.0,134.6 1250.0,135.4 1313.0,136.4 1360.0,137.6 1440.0,138.2 1521.0,138.4 1523.0,140.2 1568.0,140.3 1615.0,140.2 1683.0,140.0 1745.0,139.8 1868.0,139.7 2010.0,139.7 2010.0,146.8 1868.0,147.0 1745.0,147.2 1683.0,147.5 1615.0,148.0 1568.0,148.9 1521.0,149.3 1440.0,149.4 1360.0,150.4 1313.0,151.4 1250.0,149.7 1212.8,147.6 1188.0,145.5 1165.0,144.8 1154.0,145.4 1126.0,146.7 1110.0,147.0 1100.0,146.5 1091.4,146.0 1088.0,147.2 1080.0,150.0 1073.0,153.5 1062.5,158.5 1054.2,162.7 1041.6,167.8 1024.3,167.8" fill="#edb01f" stroke="#edb01f" stroke-width="1"/>
<polygon points="1925.5,140.0 1929.0,136.4 1933.5,140.0" fill="#edb01f" stroke="#edb01f" stroke-width="1"/>
<polygon points="1926.5,146.0 1931.5,152.4 1936.5,146.0" fill="#edb01f" stroke="#edb01f" stroke-width="1"/>
</g>
<rect x="1507.2" y="680.5" width="106.4" height="15.5" fill="#4472c4"/>
<rect x="1506.3" y="719" width="108.4" height="15.8" fill="#c55a11"/>
<rect x="1506.3" y="756.3" width="108.4" height="16.2" fill="#ffd966"/>
</g>
<g filter="url(#blt)">
<text class="b" x="1658" y="705.3" font-size="27.5" textLength="82" lengthAdjust="spacingAndGlyphs">Cell #1</text>
<text class="b" x="1658" y="736.2" font-size="27.5" textLength="84" lengthAdjust="spacingAndGlyphs">Cell #2</text>
<text class="b" x="1658" y="767.1" font-size="27.5" textLength="84" lengthAdjust="spacingAndGlyphs">Cell #3</text>
<text class="tick" x="188.9" y="944.2" textLength="18.5" lengthAdjust="spacingAndGlyphs">0</text>
<text class="tick" x="359.3" y="944.2" textLength="44" lengthAdjust="spacingAndGlyphs">0.5</text>
<text class="tick" x="559.0" y="944.2" textLength="17" lengthAdjust="spacingAndGlyphs">1</text>
<text class="tick" x="733.0" y="944.2" textLength="44" lengthAdjust="spacingAndGlyphs">1.5</text>
<text class="tick" x="931.5" y="944.2" textLength="17" lengthAdjust="spacingAndGlyphs">2</text>
<text class="tick" x="1103.8" y="944.2" textLength="43" lengthAdjust="spacingAndGlyphs">2.5</text>
<text class="tick" x="1303.2" y="944.2" textLength="17" lengthAdjust="spacingAndGlyphs">3</text>
<text class="tick" x="1475.2" y="944.2" textLength="43" lengthAdjust="spacingAndGlyphs">3.5</text>
<text class="tick" x="1660.7" y="944.2" textLength="44" lengthAdjust="spacingAndGlyphs">4.0</text>
<text class="tick" x="1847.3" y="944.2" textLength="44" lengthAdjust="spacingAndGlyphs">4.5</text>
<text class="tick" x="131.4" y="88.0" textLength="45.7" lengthAdjust="spacingAndGlyphs">4.3</text>
<text class="tick" x="131.4" y="176.6" textLength="45.7" lengthAdjust="spacingAndGlyphs">4.2</text>
<text class="tick" x="131.4" y="266.29999999999995" textLength="45.7" lengthAdjust="spacingAndGlyphs">4.1</text>
<text class="tick" x="131.4" y="357.59999999999997" textLength="45.7" lengthAdjust="spacingAndGlyphs">4.0</text>
<text class="tick" x="131.4" y="444.59999999999997" textLength="45.7" lengthAdjust="spacingAndGlyphs">3.9</text>
<text class="tick" x="131.4" y="533.9" textLength="45.7" lengthAdjust="spacingAndGlyphs">3.8</text>
<text class="tick" x="131.4" y="623.5" textLength="45.7" lengthAdjust="spacingAndGlyphs">3.7</text>
<text class="tick" x="131.4" y="715.4" textLength="45.7" lengthAdjust="spacingAndGlyphs">3.6</text>
<text class="tick" x="131.4" y="809.8" textLength="45.7" lengthAdjust="spacingAndGlyphs">3.5</text>
<text class="tick" x="131.4" y="905.0" textLength="45.7" lengthAdjust="spacingAndGlyphs">3.4</text>
<text class="b" font-size="48.5" transform="translate(59.5,610.7) rotate(-90)" textLength="164" lengthAdjust="spacingAndGlyphs">Voltage</text>
<text class="b" font-size="48.5" transform="translate(59.5,428.2) rotate(-90)" textLength="56.5" lengthAdjust="spacingAndGlyphs">(V)</text>
<text class="b" font-size="48.5" x="992.8" y="1018.6" textLength="104.5" lengthAdjust="spacingAndGlyphs">Time</text>
<text class="b" font-size="48.5" x="1115.6" y="1018.6" textLength="51.5" lengthAdjust="spacingAndGlyphs">(s)</text>
<text x="1944.5" y="954" font-size="30.5" fill="#262626" textLength="59.5" lengthAdjust="spacingAndGlyphs" word-spacing="3">x 10</text>
<text x="2003.6" y="943.2" font-size="19" fill="#262626">4</text>
</g>
</svg></body></html>
